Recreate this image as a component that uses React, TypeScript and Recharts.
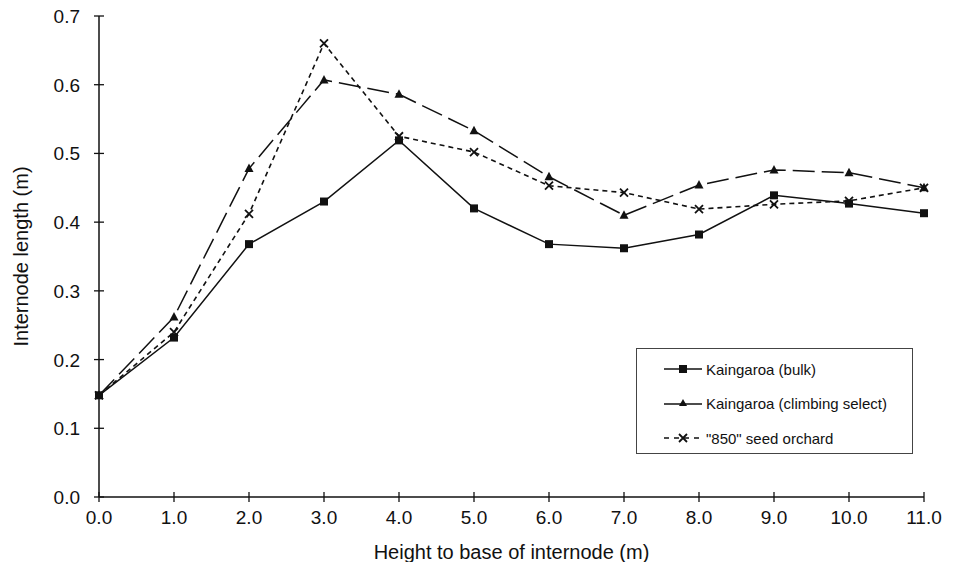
import React from 'react';
import { LineChart, Line, XAxis, YAxis, Legend } from 'recharts';

const heights = [0, 1, 2, 3, 4, 5, 6, 7, 8, 9, 10, 11];
const bulk = [0.148, 0.232, 0.368, 0.43, 0.519, 0.42, 0.368, 0.362, 0.382, 0.439, 0.427, 0.413];
const climbing = [0.148, 0.262, 0.478, 0.607, 0.586, 0.533, 0.466, 0.41, 0.454, 0.476, 0.472, 0.45];
const orchard = [0.148, 0.24, 0.412, 0.66, 0.525, 0.502, 0.453, 0.443, 0.419, 0.426, 0.431, 0.45];
const xTicks = [0, 1, 2, 3, 4, 5, 6, 7, 8, 9, 10, 11];
const yTicks = [0, 0.1, 0.2, 0.3, 0.4, 0.5, 0.6, 0.7];
const seriesNames = ['Kaingaroa (bulk)', 'Kaingaroa (climbing select)', '"850" seed orchard'];

const data = heights.map((h, i) => ({ h, bulk: bulk[i], climbing: climbing[i], orchard: orchard[i] }));

const FONT = '"Liberation Sans", Arial, Helvetica, sans-serif';
const INK = '#111';
const AXIS_X = 99;
const AXIS_Y = 497;

const XTick = (props: any) => {
  const { x, payload } = props;
  return (
    <g>
      <line x1={x} x2={x} y1={AXIS_Y - 5} y2={AXIS_Y + 5} stroke={INK} strokeWidth={1.3} />
      <text x={x} y={AXIS_Y + 27} textAnchor="middle" fontSize={19} fontFamily={FONT} fill={INK}>
        {Number(payload.value).toFixed(1)}
      </text>
    </g>
  );
};

const YTick = (props: any) => {
  const { y, payload } = props;
  return (
    <g>
      <line x1={AXIS_X - 5} x2={AXIS_X + 5} y1={y} y2={y} stroke={INK} strokeWidth={1.3} />
      <text x={AXIS_X - 19} y={y + 7} textAnchor="end" fontSize={19} fontFamily={FONT} fill={INK}>
        {Number(payload.value).toFixed(1)}
      </text>
    </g>
  );
};

const SquareDot = (p: any) => {
  const { cx, cy, index } = p;
  return <rect key={`s-${index}`} x={cx - 4} y={cy - 4} width={8} height={8} fill={INK} />;
};
const TriDot = (p: any) => {
  const { cx, cy, index } = p;
  return <path key={`t-${index}`} d={`M${cx},${cy - 5} L${cx + 4.5},${cy + 3.5} L${cx - 4.5},${cy + 3.5} Z`} fill={INK} />;
};
const CrossDot = (p: any) => {
  const { cx, cy, index } = p;
  return (
    <path key={`c-${index}`} d={`M${cx - 4},${cy - 4} L${cx + 4},${cy + 4} M${cx - 4},${cy + 4} L${cx + 4},${cy - 4}`} stroke={INK} strokeWidth={1.8} fill="none" />
  );
};

const LegendBox = () => {
  const row = (i: number) => {
    let icon;
    if (i === 0) {
      icon = (
        <svg width={38} height={12}>
          <line x1={0} x2={38} y1={6} y2={6} stroke={INK} strokeWidth={1.4} />
          <rect x={15} y={2} width={8} height={8} fill={INK} />
        </svg>
      );
    } else if (i === 1) {
      icon = (
        <svg width={38} height={12}>
          <line x1={0} x2={38} y1={7} y2={7} stroke={INK} strokeWidth={1.4} />
          <path d="M19,2 L23,9 L15,9 Z" fill={INK} />
        </svg>
      );
    } else {
      icon = (
        <svg width={38} height={12}>
          <line x1={0} x2={38} y1={6} y2={6} stroke={INK} strokeWidth={1.4} strokeDasharray="5 5" />
          <path d="M15,2 L23,10 M15,10 L23,2" stroke={INK} strokeWidth={1.8} />
        </svg>
      );
    }
    return (
      <div key={i} style={{ position: 'absolute', left: 27, top: [11, 45, 80][i], height: 18, display: 'flex', alignItems: 'center' }}>
        {icon}
        <span style={{ marginLeft: 4, fontSize: 15, fontFamily: FONT, color: INK, whiteSpace: 'nowrap' }}>{seriesNames[i]}</span>
      </div>
    );
  };
  return (
    <div style={{ position: 'relative', width: 275, height: 104, border: '1.5px solid #444', background: '#fff' }}>
      {row(0)}
      {row(1)}
      {row(2)}
    </div>
  );
};

export default function App() {
  return (
    <div style={{ position: 'absolute', left: 0, top: 0, width: 958, height: 562, background: '#fff' }}>
      <LineChart width={958} height={562} data={data} margin={{ top: 16, right: 34, bottom: 0, left: 0 }}>
        <XAxis
          dataKey="h"
          type="number"
          domain={[0, 11]}
          ticks={xTicks}
          height={65}
          tickLine={false}
          axisLine={{ stroke: INK, strokeWidth: 1.5 }}
          tick={<XTick />}
          label={{ value: 'Height to base of internode (m)', position: 'insideBottom', offset: 3, style: { fontSize: 20, fontFamily: FONT, fill: INK } }}
        />
        <YAxis
          type="number"
          domain={[0, 0.7]}
          ticks={yTicks}
          width={99}
          tickLine={false}
          axisLine={{ stroke: INK, strokeWidth: 1.5 }}
          tick={<YTick />}
          label={{ value: 'Internode length (m)', angle: -90, position: 'insideLeft', offset: 21, style: { fontSize: 20, fontFamily: FONT, fill: INK, textAnchor: 'middle' } }}
        />
        <Legend
          layout="vertical"
          align="center"
          verticalAlign="middle"
          content={<LegendBox />}
          wrapperStyle={{ position: 'absolute', left: 636, top: 348, width: 278, height: 107 }}
        />
        <Line dataKey="bulk" name={seriesNames[0]} stroke={INK} strokeWidth={1.5} dot={SquareDot} activeDot={false} isAnimationActive={false} />
        <Line dataKey="climbing" name={seriesNames[1]} stroke={INK} strokeWidth={1.5} strokeDasharray="22 7" dot={TriDot} activeDot={false} isAnimationActive={false} />
        <Line dataKey="orchard" name={seriesNames[2]} stroke={INK} strokeWidth={1.6} strokeDasharray="5 4" dot={CrossDot} activeDot={false} isAnimationActive={false} />
      </LineChart>
    </div>
  );
}
